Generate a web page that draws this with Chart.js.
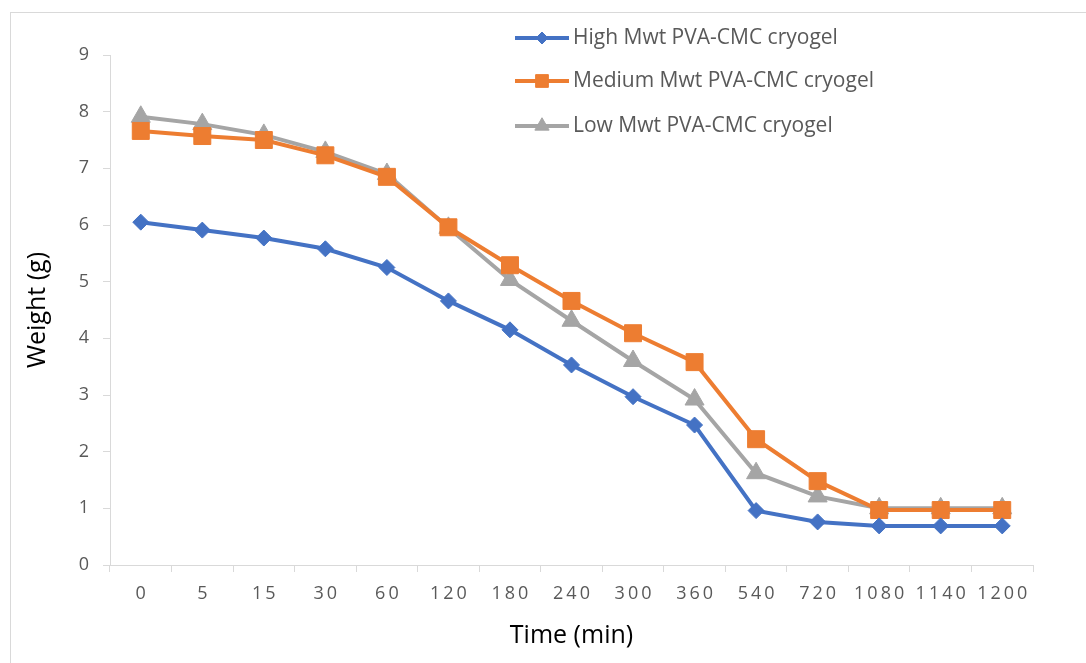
<!DOCTYPE html>
<html>
<head>
<meta charset="utf-8">
<script src="https://cdn.jsdelivr.net/npm/chart.js"></script>
<style>
  html, body { margin: 0; padding: 0; background: #fff; overflow: hidden; }
  #wrap { position: relative; width: 1086px; height: 663px; }
  #frame { position: absolute; left: 10px; top: 12px; width: 2000px; height: 2000px;
           border-left: 1px solid #d9d9d9; border-top: 1px solid #d9d9d9; }
  canvas { position: absolute; left: 0; top: 0; }
</style>
</head>
<body>
<div id="wrap">
  <div id="frame"></div>
  <canvas id="myChart" width="1086" height="663"></canvas>
</div>
<script>
// time points (min)
const times = ['0', '5', '15', '30', '60', '120', '180', '240', '300', '360', '540', '720', '1080', '1140', '1200'];

// weight (g) of each cryogel
const highMwt   = [6.05, 5.91, 5.77, 5.58, 5.25, 4.66, 4.15, 3.53, 2.97, 2.47, 0.96, 0.76, 0.69, 0.69, 0.69];
const mediumMwt = [7.66, 7.57, 7.50, 7.23, 6.85, 5.96, 5.29, 4.66, 4.09, 3.58, 2.22, 1.48, 0.97, 0.97, 0.97];
const lowMwt    = [7.91, 7.78, 7.59, 7.29, 6.90, 5.95, 5.03, 4.31, 3.60, 2.92, 1.62, 1.21, 1.00, 1.00, 1.00];

const yTicks = [0, 1, 2, 3, 4, 5, 6, 7, 8, 9];

const axisGrey = '#d9d9d9';
const labelGrey = '#595959';
const FONT = "'Open Sans', sans-serif";

// legend sits on top of the plot, drawn by hand
const legendBox = {
  id: 'legendBox',
  afterDraw(chart) {
    const ctx = chart.ctx;
    const x0 = 515, lineLen = 54, rows = [38, 81, 126];
    chart.data.datasets.forEach((ds, i) => {
      const y = rows[i];
      ctx.save();
      ctx.strokeStyle = ds.borderColor;
      ctx.lineWidth = 4;
      ctx.beginPath();
      ctx.moveTo(x0, y);
      ctx.lineTo(x0 + lineLen, y);
      ctx.stroke();
      ctx.fillStyle = ds.backgroundColor;
      ctx.strokeStyle = ds.borderColor;
      ctx.lineWidth = 1;
      Chart.helpers.drawPoint(ctx, {
        pointStyle: ds.pointStyle,
        radius: ds.pointRadius * 0.75,
        rotation: 0,
        borderWidth: 1
      }, x0 + lineLen / 2, y);
      ctx.fillStyle = labelGrey;
      ctx.font = "21px " + FONT;
      ctx.textBaseline = 'middle';
      ctx.textAlign = 'left';
      ctx.fillText(ds.label, x0 + lineLen + 4, y);
      ctx.restore();
    });
  }
};

// wider spacing on the time labels
const spacedTicks = {
  id: 'spacedTicks',
  afterUpdate(chart) {
    const xs = chart.scales.x;
    if (xs._spaced) return;
    const orig = xs.drawLabels.bind(xs);
    xs.drawLabels = (area) => {
      const c = chart.ctx;
      c.save();
      c.letterSpacing = '3px';
      c.translate(1.5, 0);
      orig(area);
      c.restore();
    };
    xs._spaced = true;
  }
};

const ctx = document.getElementById('myChart').getContext('2d');
const myChart = new Chart(ctx, {
  type: 'line',
  data: {
    labels: times,
    datasets: [{
      label: 'High Mwt PVA-CMC cryogel',
      data: highMwt,
      borderColor: '#4472c4',
      backgroundColor: '#4472c4',
      pointStyle: 'rectRot',
      pointRadius: 8,
      borderWidth: 4,
      pointBorderWidth: 1
    }, {
      label: 'Medium Mwt PVA-CMC cryogel',
      data: mediumMwt,
      borderColor: '#ed7d31',
      backgroundColor: '#ed7d31',
      pointStyle: 'rect',
      pointRadius: 12,
      borderWidth: 4,
      pointBorderWidth: 1
    }, {
      label: 'Low Mwt PVA-CMC cryogel',
      data: lowMwt,
      borderColor: '#a5a5a5',
      backgroundColor: '#a5a5a5',
      pointStyle: 'triangle',
      pointRadius: 11,
      borderWidth: 4,
      pointBorderWidth: 1
    }]
  },
  options: {
    responsive: false,
    animation: false,
    layout: { padding: { left: 0, top: 55, right: 53, bottom: 0 } },
    plugins: {
      legend: { display: false },
      tooltip: { enabled: false }
    },
    scales: {
      x: {
        offset: true,
        grid: { offset: true, drawOnChartArea: false, color: axisGrey, tickLength: 7 },
        border: { color: axisGrey, width: 1 },
        ticks: { color: labelGrey, font: { family: FONT, size: 18 }, padding: 11, maxRotation: 0, autoSkip: false },
        title: { display: true, text: 'Time (min)', color: '#000', font: { family: FONT, size: 25 }, padding: { top: 0, bottom: 12 } },
        afterFit(scale) { scale.height = 98; }
      },
      y: {
        min: 0,
        max: 9,
        afterBuildTicks(scale) { scale.ticks = yTicks.map(v => ({ value: v })); },
        grid: { drawOnChartArea: false, color: axisGrey, tickLength: 7 },
        border: { color: axisGrey, width: 1 },
        ticks: { color: labelGrey, font: { family: FONT, size: 18 }, padding: 14 },
        title: { display: true, text: 'Weight (g)', color: '#000', font: { family: FONT, size: 25 }, padding: { top: 23, bottom: 0 } },
        afterFit(scale) { scale.width = 110; }
      }
    }
  },
  plugins: [legendBox, spacedTicks]
});
</script>
</body>
</html>
